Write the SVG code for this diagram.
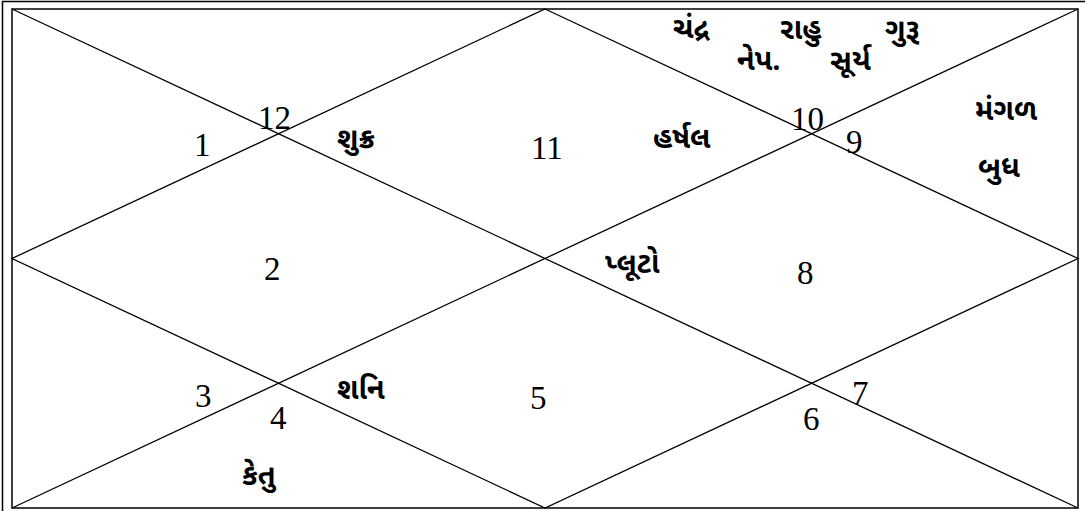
<svg xmlns="http://www.w3.org/2000/svg" width="1085" height="511" viewBox="0 0 1085 511">
<style>
.frame{fill:none;stroke:#000;stroke-width:1.5}
.ln{stroke:#000;stroke-width:1.3;fill:none}
.num{font-family:"Liberation Serif","Times New Roman",serif;font-size:33px;fill:#000}
.pl{font-family:"Noto Sans Gujarati","Lohit Gujarati","Noto Sans",sans-serif;font-size:29px;font-weight:bold;fill:#000}
</style>
<rect width="1085" height="511" fill="#fff"/>
<g id="frame">
<rect class="frame" x="2.5" y="1.5" width="1100" height="530"/>
<rect class="frame" x="12" y="9" width="1066" height="499"/>
</g>
<g id="connectors">
<line class="ln" x1="12" y1="9" x2="1078" y2="508"/>
<line class="ln" x1="12" y1="508" x2="1078" y2="9"/>
<polygon class="ln" points="545,9 1078,258.5 545,508 12,258.5"/>
</g>
<g id="house1"><text class="num" x="194" y="156">1</text></g>
<g id="house2"><text class="num" x="264" y="280">2</text></g>
<g id="house3"><text class="num" x="195" y="407">3</text></g>
<g id="house4"><text class="num" x="270" y="429">4</text><text class="pl" x="242" y="485">કેતુ</text></g>
<g id="house5"><text class="num" x="530" y="409">5</text><text class="pl" x="337" y="399">શનિ</text></g>
<g id="house6"><text class="num" x="803" y="430">6</text></g>
<g id="house7"><text class="num" x="852" y="404">7</text></g>
<g id="house8"><text class="num" x="797" y="284">8</text><text class="pl" x="605" y="273">પ્લૂટો</text></g>
<g id="house9"><text class="num" x="846" y="153">9</text><text class="pl" x="975" y="120">મંગળ</text><text class="pl" x="978" y="177">બુધ</text></g>
<g id="house10"><text class="num" x="791" y="130">10</text>
<text class="pl" x="673" y="38">ચંદ્ર</text><text class="pl" x="780" y="39">રાહુ</text><text class="pl" x="885" y="39">ગુરૂ</text>
<text class="pl" x="737" y="70">નેપ.</text><text class="pl" x="830" y="70">સૂર્ય</text></g>
<g id="house11"><text class="num" x="531" y="159">11</text><text class="pl" x="653" y="148">હર્ષલ</text></g>
<g id="house12"><text class="num" x="258" y="129">12</text><text class="pl" x="337" y="148">શુક્ર</text></g>
</svg>
